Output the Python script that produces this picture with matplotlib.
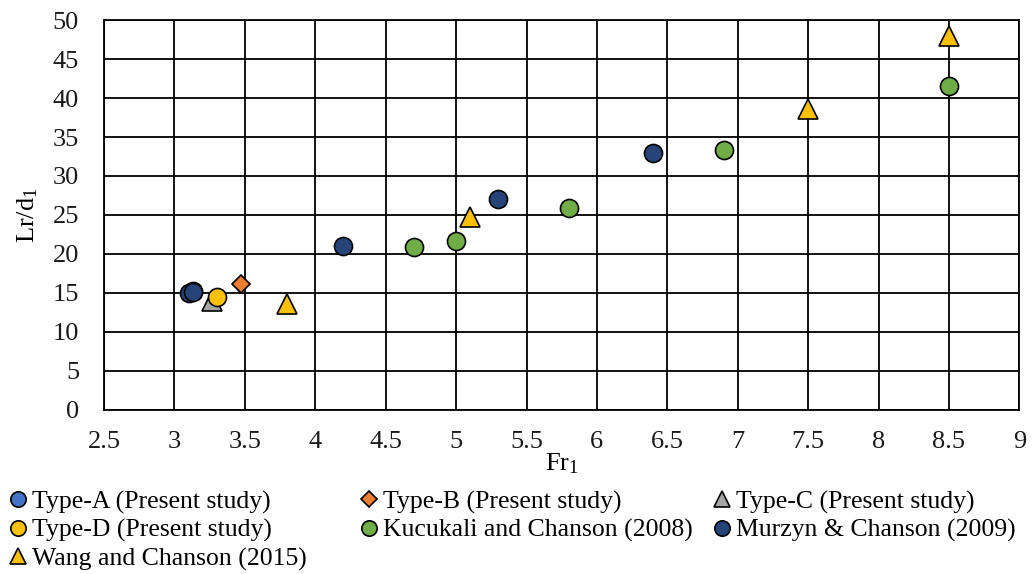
import matplotlib

matplotlib.use("Agg")
import matplotlib.pyplot as plt

plt.rcParams["font.family"] = ["Liberation Serif", "DejaVu Serif"]
plt.rcParams["mathtext.fontset"] = "custom"
plt.rcParams["mathtext.rm"] = "Liberation Serif"
plt.rcParams["mathtext.it"] = "Liberation Serif"

# data
type_a_x = [3.13]
type_a_y = [15.2]
type_b_x = [3.47]
type_b_y = [16.2]
type_c_x = [3.27]
type_c_y = [14.0]
type_d_x = [3.3]
type_d_y = [14.5]
kucukali_x = [4.7, 5.0, 5.8, 6.9, 8.5]
kucukali_y = [20.9, 21.7, 25.9, 33.3, 41.6]
murzyn_x = [3.1, 3.13, 4.2, 5.3, 6.4]
murzyn_y = [15.0, 15.1, 21.0, 27.0, 33.0]
wang_x = [3.8, 5.1, 7.5, 8.5]
wang_y = [13.6, 24.8, 38.6, 48.0]

x_ticks = [2.5, 3, 3.5, 4, 4.5, 5, 5.5, 6, 6.5, 7, 7.5, 8, 8.5, 9]
x_tick_labels = ["2.5", "3", "3.5", "4", "4.5", "5", "5.5", "6", "6.5",
                 "7", "7.5", "8", "8.5", "9"]
y_ticks = [0, 5, 10, 15, 20, 25, 30, 35, 40, 45, 50]

SERIES = [
    ("Type-A (Present study)", type_a_x, type_a_y, "o", "#4472C4"),
    ("Type-B (Present study)", type_b_x, type_b_y, "D", "#ED7D31"),
    ("Type-C (Present study)", type_c_x, type_c_y, "^", "#A5A5A5"),
    ("Type-D (Present study)", type_d_x, type_d_y, "o", "#FFC000"),
    ("Kucukali and Chanson (2008)", kucukali_x, kucukali_y, "o", "#70AD47"),
    ("Murzyn & Chanson (2009)", murzyn_x, murzyn_y, "o", "#264478"),
    ("Wang and Chanson (2015)", wang_x, wang_y, "^", "#FFC000"),
]

SIZES = {"o": 13, "^": 14, "D": 9}
ZORDER = {
    "Type-A (Present study)": 3,
    "Type-C (Present study)": 4,
    "Type-D (Present study)": 6,
    "Murzyn & Chanson (2009)": 5,
}

fig = plt.figure(figsize=(10.32, 5.74), dpi=100)
ax = fig.add_axes([0.1008, 0.286, 0.887, 0.679])

handles = []
for label, xs, ys, marker, color in SERIES:
    (line,) = ax.plot(xs, ys, linestyle="none", marker=marker,
                      markersize=SIZES[marker], markerfacecolor=color,
                      markeredgecolor="black", markeredgewidth=1.2,
                      label=label, zorder=ZORDER.get(label, 4))
    handles.append(line)

ax.set_xlim(2.5, 9)
ax.set_ylim(0, 50)
ax.set_xticks(x_ticks)
ax.set_xticklabels(x_tick_labels)
ax.set_yticks(y_ticks)
ax.tick_params(length=0, labelsize=19, colors="#1a1a1a")
ax.tick_params(axis="x", pad=15)
ax.tick_params(axis="y", pad=18)
ax.grid(True, color="black", linewidth=1.3)
ax.set_axisbelow(True)
for spine in ax.spines.values():
    spine.set_color("black")
    spine.set_linewidth(1.3)

ax.set_xlabel(r"Fr$_1$", fontsize=19, labelpad=-1)
ax.set_ylabel(r"Lr/d$_1$", fontsize=19, labelpad=9)

# Excel-style legend: three equal-width columns, filled row by row
column_left = [0.005, 0.345, 0.687]
for col, x_left in enumerate(column_left):
    col_handles = handles[col::3]
    fig.legend(col_handles, [h.get_label() for h in col_handles],
               loc="upper left", bbox_to_anchor=(x_left, 0.146),
               frameon=False, fontsize=18.5, handletextpad=0.05,
               labelspacing=0.2, markerscale=0.85, handlelength=1.0,
               borderpad=0, borderaxespad=0)

fig.savefig("out.png", dpi=100)
